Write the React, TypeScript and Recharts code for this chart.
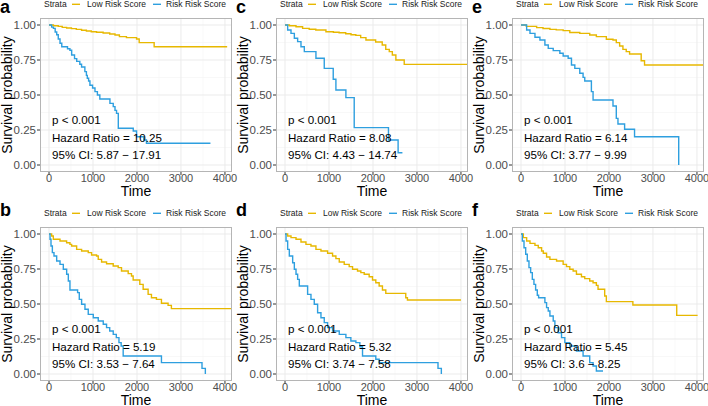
import { LineChart, Line, XAxis, YAxis, CartesianGrid } from 'recharts'

// survminer-style colours for the two strata
const LOW = '#E7B800'
const RISK = '#2E9FDF'
const FONT = '"Liberation Sans", Arial, sans-serif'

const xTicks = [0, 1000, 2000, 3000, 4000]
const yTicks = [0, 0.25, 0.5, 0.75, 1]
const xMinor = [500, 1500, 2500, 3500]
const yMinor = [0.125, 0.375, 0.625, 0.875]

// [time, survival] for each Kaplan-Meier step
const aLow = [[0, 1], [100, 0.995], [210, 0.99], [300, 0.983], [400, 0.979], [510, 0.974], [620, 0.969], [740, 0.962], [850, 0.957], [960, 0.952], [1080, 0.948], [1230, 0.943], [1380, 0.936], [1500, 0.929], [1600, 0.917], [1760, 0.91], [1990, 0.9], [2050, 0.874], [2390, 0.845], [4050, 0.845]]
const aRisk = [[0, 1], [60, 0.985], [100, 0.976], [140, 0.95], [175, 0.93], [210, 0.9], [250, 0.87], [290, 0.845], [420, 0.83], [475, 0.82], [515, 0.786], [580, 0.76], [630, 0.74], [700, 0.72], [740, 0.7], [815, 0.667], [850, 0.64], [870, 0.62], [900, 0.6], [930, 0.57], [990, 0.55], [1045, 0.524], [1100, 0.5], [1155, 0.471], [1385, 0.44], [1460, 0.417], [1500, 0.39], [1535, 0.369], [1575, 0.262], [1915, 0.243], [1990, 0.202], [2155, 0.179], [2215, 0.155], [3670, 0.155]]

const bLow = [[0, 1], [60, 0.986], [98, 0.962], [250, 0.95], [400, 0.938], [476, 0.926], [514, 0.914], [628, 0.89], [741, 0.879], [892, 0.867], [968, 0.85], [1081, 0.843], [1119, 0.819], [1195, 0.8], [1308, 0.788], [1459, 0.771], [1573, 0.76], [1648, 0.736], [1800, 0.717], [1875, 0.7], [1913, 0.671], [2064, 0.64], [2140, 0.605], [2253, 0.569], [2329, 0.545], [2442, 0.533], [2556, 0.505], [2707, 0.49], [2782, 0.467], [4160, 0.467]]
const bRisk = [[0, 1], [23, 0.962], [45, 0.914], [76, 0.867], [113, 0.843], [174, 0.807], [250, 0.783], [325, 0.748], [401, 0.712], [439, 0.664], [476, 0.6], [650, 0.581], [688, 0.533], [741, 0.498], [817, 0.462], [892, 0.426], [1006, 0.402], [1119, 0.379], [1233, 0.355], [1308, 0.331], [1380, 0.307], [1460, 0.283], [1530, 0.26], [1590, 0.224], [1640, 0.2], [1686, 0.129], [2556, 0.081], [3478, 0.04], [3554, 0]]

const cLow = [[0, 1], [100, 0.995], [250, 0.988], [400, 0.976], [550, 0.97], [700, 0.964], [930, 0.952], [1100, 0.948], [1230, 0.945], [1380, 0.938], [1500, 0.93], [1610, 0.926], [1720, 0.91], [1840, 0.893], [2060, 0.879], [2210, 0.857], [2290, 0.826], [2370, 0.81], [2440, 0.786], [2520, 0.75], [2710, 0.719], [4160, 0.719]]
const cRisk = [[0, 1], [60, 0.964], [136, 0.94], [212, 0.905], [287, 0.881], [363, 0.845], [439, 0.81], [703, 0.762], [892, 0.69], [1096, 0.612], [1157, 0.536], [1384, 0.481], [1573, 0.267], [2352, 0.179], [2571, 0.088], [2669, 0.088]]

const dLow = [[0, 1], [60, 0.986], [136, 0.974], [250, 0.962], [363, 0.943], [476, 0.926], [590, 0.914], [703, 0.89], [817, 0.879], [968, 0.862], [1081, 0.843], [1157, 0.824], [1233, 0.8], [1346, 0.783], [1459, 0.767], [1535, 0.748], [1648, 0.736], [1724, 0.724], [1800, 0.712], [1913, 0.695], [1989, 0.671], [2064, 0.652], [2140, 0.629], [2215, 0.6], [2291, 0.576], [2745, 0.545], [2783, 0.529], [4000, 0.529]]
const dRisk = [[0, 1], [23, 0.95], [60, 0.89], [98, 0.843], [174, 0.795], [212, 0.748], [250, 0.712], [287, 0.676], [325, 0.629], [514, 0.569], [590, 0.533], [665, 0.498], [741, 0.438], [817, 0.402], [892, 0.367], [968, 0.331], [1081, 0.307], [1233, 0.283], [1384, 0.26], [1497, 0.236], [1611, 0.224], [1701, 0.195], [1762, 0.129], [2064, 0.105], [2140, 0.081], [3478, 0.04], [3554, 0]]

const eLow = [[0, 1], [120, 0.99], [355, 0.981], [500, 0.975], [657, 0.969], [800, 0.965], [958, 0.96], [1109, 0.946], [1336, 0.94], [1562, 0.929], [1713, 0.917], [1940, 0.898], [2091, 0.893], [2166, 0.874], [2242, 0.85], [2317, 0.826], [2392, 0.81], [2468, 0.793], [2732, 0.745], [2808, 0.714], [4160, 0.714]]
const eRisk = [[0, 1], [128, 0.964], [204, 0.94], [317, 0.912], [430, 0.893], [543, 0.857], [619, 0.833], [732, 0.817], [883, 0.798], [958, 0.779], [1072, 0.762], [1147, 0.714], [1223, 0.69], [1336, 0.655], [1411, 0.626], [1449, 0.6], [1600, 0.524], [1638, 0.464], [2091, 0.421], [2166, 0.333], [2204, 0.293], [2355, 0.255], [2581, 0.202], [3585, 0]]

const fLow = [[0, 1], [53, 0.974], [128, 0.95], [204, 0.933], [317, 0.919], [392, 0.902], [468, 0.879], [506, 0.862], [581, 0.836], [657, 0.819], [808, 0.807], [958, 0.783], [1034, 0.767], [1109, 0.748], [1185, 0.736], [1260, 0.712], [1374, 0.695], [1449, 0.681], [1562, 0.664], [1638, 0.652], [1713, 0.633], [1751, 0.605], [1902, 0.557], [1940, 0.517], [2543, 0.493], [3540, 0.419], [4015, 0.419]]
const fRisk = [[0, 1], [30, 0.95], [68, 0.902], [106, 0.855], [143, 0.807], [181, 0.76], [219, 0.724], [257, 0.676], [294, 0.64], [332, 0.6], [370, 0.562], [400, 0.545], [543, 0.51], [581, 0.474], [619, 0.45], [657, 0.414], [732, 0.379], [770, 0.331], [845, 0.295], [921, 0.26], [996, 0.224], [1109, 0.2], [1260, 0.164], [1411, 0.129], [1562, 0.081], [1638, 0.057], [1713, 0.021], [1864, 0.021]]

const tags = ['a', 'b', 'c', 'd', 'e', 'f']
const hazardRatios = ['10.25', '5.19', '8.08', '5.32', '6.14', '5.45']
const ciLabels = ['5.87 − 17.91', '3.53 − 7.64', '4.43 − 14.74', '3.74 − 7.58', '3.77 − 9.99', '3.6 − 8.25']
const lowSeries = [aLow, bLow, cLow, dLow, eLow, fLow]
const riskSeries = [aRisk, bRisk, cRisk, dRisk, eRisk, fRisk]

// panel grid: a/b in the first column, c/d second, e/f third
const colX = [0, 236, 472]
const rowY = [0, 209]
const W = 236
const H = 203

const toPoints = (s: number[][]) => s.map(([t, v]) => ({ t, s: v }))

function Panel({ i }: { i: number }) {
  const left = colX[Math.floor(i / 2)]
  const top = rowY[i % 2]
  return (
    <div style={{ position: 'absolute', left, top, width: W, height: H }}>
      <LineChart width={W} height={H} margin={{ top: 18, right: 4, bottom: 0, left: 0 }}>
        <CartesianGrid stroke="#F4F4F4" strokeWidth={0.6} verticalValues={xMinor} horizontalValues={yMinor} />
        <CartesianGrid stroke="#EBEBEB" strokeWidth={1} verticalValues={xTicks} horizontalValues={yTicks} />
        <XAxis
          type="number"
          dataKey="t"
          domain={[-205, 4160]}
          allowDataOverflow
          ticks={xTicks}
          interval={0}
          height={31}
          tickSize={3}
          tickMargin={-1}
          axisLine={false}
          tickLine={{ stroke: '#333333' }}
          tick={{ fontSize: 11, fill: '#4D4D4D', fontFamily: FONT }}
        />
        <YAxis
          type="number"
          domain={[-0.05, 1.05]}
          allowDataOverflow
          ticks={yTicks}
          interval={0}
          width={40}
          tickSize={3}
          tickMargin={1}
          axisLine={false}
          tickLine={{ stroke: '#333333' }}
          tickFormatter={(v: number) => v.toFixed(2)}
          tick={{ fontSize: 11.5, fill: '#4D4D4D', fontFamily: FONT }}
        />
        <Line data={toPoints(lowSeries[i])} dataKey="s" type="stepAfter" stroke={LOW} strokeWidth={1.4} dot={false} activeDot={false} isAnimationActive={false} />
        <Line data={toPoints(riskSeries[i])} dataKey="s" type="stepAfter" stroke={RISK} strokeWidth={1.4} dot={false} activeDot={false} isAnimationActive={false} />
      </LineChart>
      {/* panel border, drawn over the plot area */}
      <div style={{ position: 'absolute', left: 40, top: 18, width: 192, height: 154, boxSizing: 'border-box', border: '1px solid #B5B5B5', pointerEvents: 'none' }} />
      <svg width={W} height={H} style={{ position: 'absolute', left: 0, top: 0, pointerEvents: 'none', overflow: 'visible' }} fontFamily={FONT}>
        {/* legend */}
        <text x={44} y={7.3} fontSize={8.5} fill="#1A1A1A">Strata</text>
        <line x1={72} x2={80} y1={4.3} y2={4.3} stroke={LOW} strokeWidth={1.4} />
        <text x={87} y={7.3} fontSize={8.5} fill="#1A1A1A">Low Risk Score</text>
        <line x1={153} x2={161} y1={4.3} y2={4.3} stroke={RISK} strokeWidth={1.4} />
        <text x={166} y={7.3} fontSize={8.5} fill="#1A1A1A">Risk Risk Score</text>
        {/* annotations */}
        <text x={52} y={124} fontSize={11.6} fill="#000">p &lt; 0.001</text>
        <text x={52} y={142} fontSize={11.6} fill="#000">Hazard Ratio = {hazardRatios[i]}</text>
        <text x={52} y={159} fontSize={11.6} fill="#000">95% CI: {ciLabels[i]}</text>
        {/* axis titles */}
        <text x={12} y={95} fontSize={14} fill="#000" textAnchor="middle" transform="rotate(-90 12 95)">Survival probability</text>
        <text x={136} y={196} fontSize={14} fill="#000" textAnchor="middle">Time</text>
      </svg>
    </div>
  )
}

export default function App() {
  return (
    <div style={{ position: 'relative', width: 708, height: 406, overflow: 'hidden', background: '#fff', fontFamily: FONT }}>
      <style>{'body{margin:0} .recharts-surface{overflow:visible}'}</style>
      {tags.map((_, i) => <Panel key={i} i={i} />)}
      <svg width={708} height={406} style={{ position: 'absolute', left: 0, top: 0, pointerEvents: 'none' }} fontFamily={FONT}>
        {tags.map((tag, i) => (
          <text key={tag} x={colX[Math.floor(i / 2)]} y={i % 2 === 0 ? 13 : 216} fontSize={18} fontWeight="bold" fill="#000">{tag}</text>
        ))}
      </svg>
    </div>
  )
}
